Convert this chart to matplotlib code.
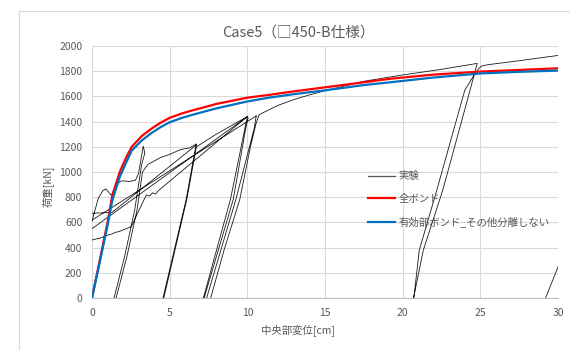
import matplotlib
matplotlib.use('Agg')
import matplotlib.pyplot as plt
from matplotlib.lines import Line2D
import numpy as np

plt.rcParams['font.family'] = ['Noto Sans CJK JP', 'DejaVu Sans']

nan = np.nan
# test result (segments separated by nan), x in cm, load in kN
exp_x = [0, 0.2, 0.4, 0.7, 0.9, 1.1, 1.25, 1.4, 1.6, 1.9, 2.4, 2.8, 3.0, 3.15, 3.3, 3.4, 3.2, 2.75, 2.1, 1.42, nan,
         1.55, 2.25, 2.9, 3.25, 3.6, 4.4, 5.0, 5.7, 6.3, 6.72, 6.6, 6.06, 4.57, nan,
         4.62, 6.1, 6.72, 8.0, 9.0, 10.0, 9.85, 8.91, 7.17, nan,
         0, 1.3, 6.72, nan,
         0, 10.0, nan,
         0, 10.57, nan,
         0, 0.3, 0.6, 0.9, 1.2, 1.5, 1.8, 2.1, 2.53, 3.0, 3.5, 3.7, 3.9, 4.1, 4.25, 10.0, nan,
         7.22, 9.09, 9.9, 10.05, nan,
         10.57, 10.45, 9.26, 7.38, nan,
         7.64, 8.5, 9.51, 10.2, 10.55, 10.75, 11.0, 12, 13, 14, 15, 17.5, 20, 22.5, 24.8,
         24.75, 24.34, 22.59, 21.33, 20.7, nan,
         20.72, 21.07, 22.2, 24.0, 24.7, 24.9, 25.1, 25.5, 27, 28.5, 30, nan,
         29.2, 30.05]
exp_y = [610, 700, 790, 852, 866, 835, 815, 860, 905, 930, 925, 935, 990, 1100, 1205, 1150, 1060, 700, 330, 0, nan,
         0, 330, 700, 1000, 1060, 1114, 1140, 1178, 1192, 1223, 1150, 781, 0, nan,
         0, 781, 1200, 1300, 1370, 1440, 1350, 781, 0, nan,
         672, 680, 1215, nan,
         550, 1440, nan,
         618, 1445, nan,
         460, 470, 478, 495, 505, 520, 530, 545, 566, 690, 818, 810, 835, 825, 850, 1440, nan,
         0, 781, 1350, 1430, nan,
         1445, 1350, 781, 0, nan,
         0, 380, 781, 1200, 1380, 1453, 1470, 1530, 1575, 1612, 1645, 1720, 1770, 1815, 1862,
         1840, 1650, 860, 380, 0, nan,
         0, 380, 857, 1650, 1790, 1820, 1842, 1852, 1875, 1900, 1925, nan,
         0, 262]

# analysis curves
ana_x = [0, 0.5, 1.0, 1.3, 1.5, 1.8, 2.2, 2.56, 3.2, 3.84, 4.4, 5, 5.8, 6.5, 8, 10, 11.4, 13, 15, 17.5, 19.2, 22, 25, 27.5, 30]
bond_all = [0, 300, 600, 810, 890, 1005, 1115, 1200, 1285, 1345, 1390, 1430, 1465, 1490, 1540, 1590, 1612, 1640, 1672, 1712, 1740, 1773, 1797, 1810, 1823]
bond_eff = [0, 285, 575, 770, 850, 965, 1075, 1170, 1250, 1310, 1355, 1395, 1430, 1455, 1505, 1560, 1590, 1618, 1648, 1690, 1712, 1750, 1782, 1795, 1805]

fig = plt.figure(figsize=(5.7, 3.5), dpi=100)
ax = fig.add_axes([92/570, 52/350, 466/570, 252/350])

ax.plot(exp_x, exp_y, color='#1a1a1a', lw=0.6, zorder=3)
ax.plot(ana_x, bond_all, color='#ff0000', lw=1.6, zorder=4)
ax.plot(ana_x, bond_eff, color='#0070c0', lw=1.6, zorder=5)

ax.set_xlim(0, 30)
ax.set_ylim(0, 2000)
ax.set_xticks(np.arange(0, 31, 5))
ax.set_yticks(np.arange(0, 2001, 200))
ax.grid(color='#d9d9d9', lw=0.8)
ax.set_axisbelow(True)
for s in ['top', 'right', 'left']:
    ax.spines[s].set_visible(False)
ax.spines['bottom'].set_color('#bfbfbf')
ax.tick_params(length=0, labelsize=7.5, colors='#595959', pad=7)

# title and axis labels centred on the chart area
fig.text(298/570, 1 - 33/350, 'Case5（□450-B仕様）', fontsize=10.5, color='#595959',
         ha='center', va='center')
fig.text(298/570, 1 - 330/350, '中央部変位[cm]', fontsize=7.5, color='#595959',
         ha='center', va='center')
fig.text(48/570, 1 - 186/350, '荷重[kN]', fontsize=7.5, color='#595959',
         ha='center', va='center', rotation=90)

handles = [Line2D([], [], color='#595959', lw=0.9),
           Line2D([], [], color='#ff0000', lw=1.6),
           Line2D([], [], color='#0070c0', lw=1.6)]
labels = ['実験', '全ボンド', '有効部ボンド_その他分離しない']
leg = ax.legend(handles, labels, loc='upper left', bbox_to_anchor=(359/570, 1 - 162/350),
                bbox_transform=fig.transFigure, frameon=False, fontsize=7.5,
                handlelength=2.6, handletextpad=0.3, labelspacing=1.2)
for t in leg.get_texts():
    t.set_color('#595959')

# chart area frame
fig.add_artist(Line2D([19/570, 19/570], [0, 1 - 11/350], color='#d9d9d9', lw=0.8))
fig.add_artist(Line2D([19/570, 1], [1 - 11/350, 1 - 11/350], color='#d9d9d9', lw=0.8))

fig.savefig('out.png', dpi=100)
